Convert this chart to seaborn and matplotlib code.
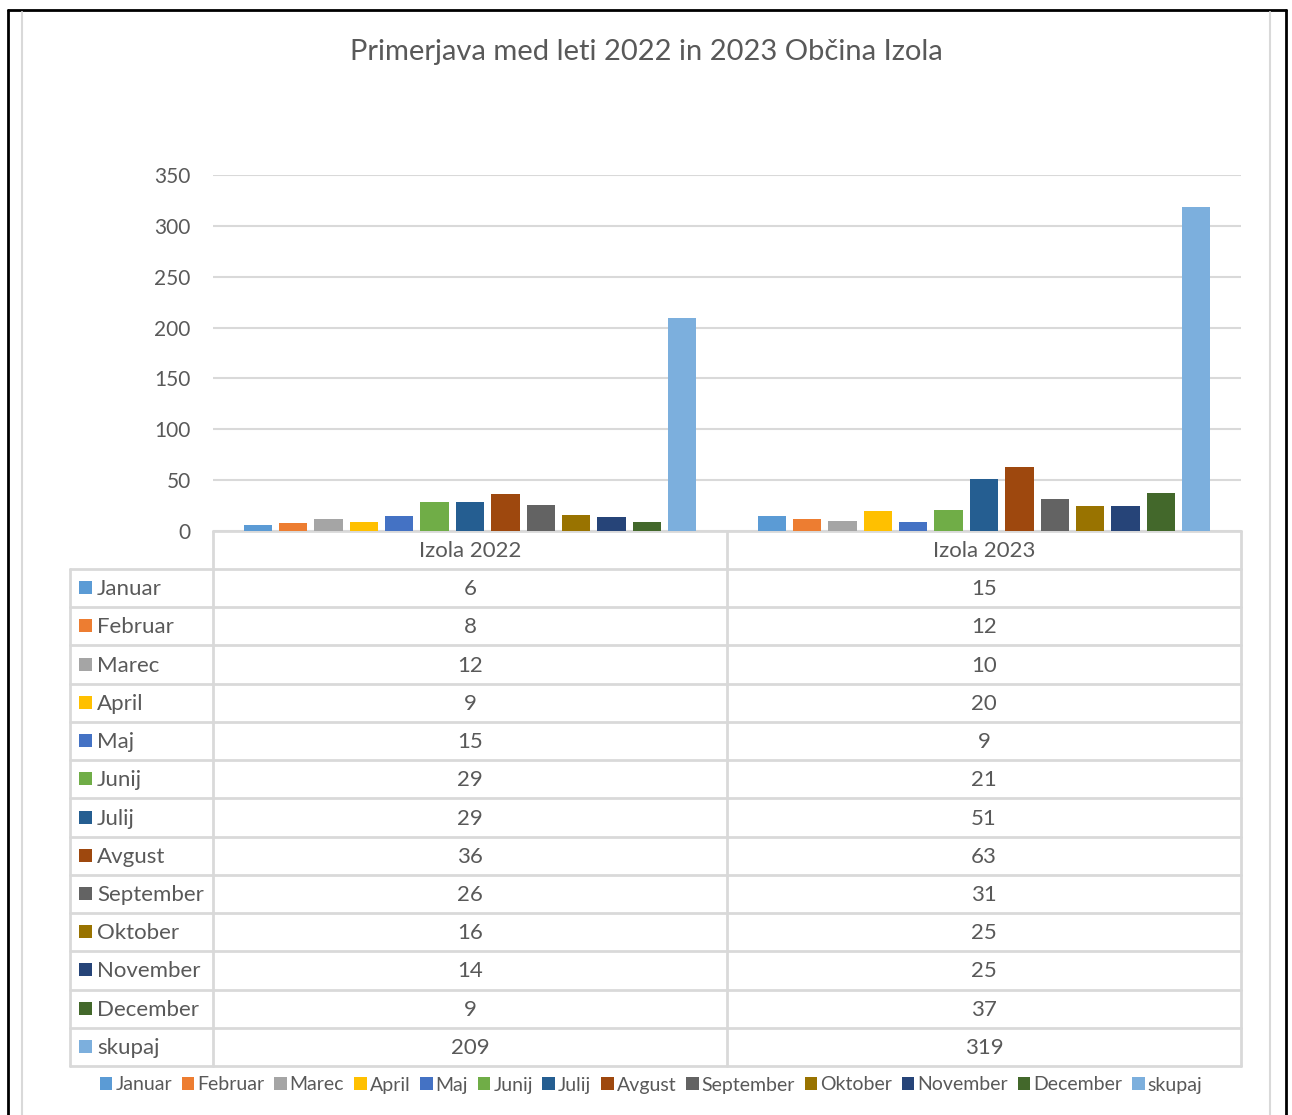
import matplotlib
matplotlib.use("Agg")
import matplotlib.pyplot as plt
import seaborn as sns
import pandas as pd
from matplotlib.patches import Rectangle

sns.set_theme(style="white")
plt.rcParams['font.family'] = ['Lato', 'DejaVu Sans']

title = "Primerjava med leti 2022 in 2023 Občina Izola"
groups = ["Izola 2022", "Izola 2023"]
months = ["Januar", "Februar", "Marec", "April", "Maj", "Junij", "Julij",
          "Avgust", "September", "Oktober", "November", "December", "skupaj"]
vals_2022 = [6, 8, 12, 9, 15, 29, 29, 36, 26, 16, 14, 9, 209]
vals_2023 = [15, 12, 10, 20, 9, 21, 51, 63, 31, 25, 25, 37, 319]
yticks = [0, 50, 100, 150, 200, 250, 300, 350]
colors = ["#5B9BD5", "#ED7D31", "#A5A5A5", "#FFC000", "#4472C4", "#70AD47",
          "#255E91", "#9E480E", "#636363", "#997300", "#264478", "#43682B",
          "#7CAFDD"]

df = pd.DataFrame({
    "group": [groups[0]] * len(months) + [groups[1]] * len(months),
    "month": months + months,
    "value": vals_2022 + vals_2023,
})

W, H = 1292, 1115
fig = plt.figure(figsize=(W / 100, H / 100), dpi=100)
txt = "#595959"
grid = "#D9D9D9"

# overlay axes in pixel coordinates
ov = fig.add_axes([0, 0, 1, 1], zorder=0)
ov.set_xlim(0, W)
ov.set_ylim(H, 0)
ov.axis("off")

# plot area
L, R, T, B = 213, 1241, 175, 531
ax = fig.add_axes([L / W, 1 - B / H, (R - L) / W, (B - T) / H], zorder=2)
ax.patch.set_alpha(0)
sns.barplot(data=df, x="group", y="value", hue="month", hue_order=months,
            palette=colors, width=0.895, gap=0.2, ax=ax, legend=False,
            linewidth=0, saturation=1)
ax.set_ylim(0, 350)
ax.set_xlim(-0.5, 1.5)
ax.set_yticks(yticks)
ax.set_yticklabels([str(v) for v in yticks], color=txt, fontsize=15)
ax.tick_params(axis="y", length=0, pad=16)
ax.set_xticks([])
ax.set_xlabel("")
ax.set_ylabel("")
for s in ax.spines.values():
    s.set_visible(False)
ax.yaxis.grid(True, color=grid, linewidth=1.5)
ax.set_axisbelow(True)

# title
ov.text(646, 52, title, ha="center", va="center", fontsize=21, color=txt)

# borders of the frame
ov.plot([8, 1286], [10, 10], color="black", lw=2)
ov.plot([8, 8], [10, H], color="black", lw=2)
ov.plot([1286, 1286], [10, H], color="black", lw=2)
ov.plot([22, 22], [12, H], color="#D9D9D9", lw=1.5)
ov.plot([1270, 1270], [12, H], color="#D9D9D9", lw=1.5)

# data table
mid = 727
TL = 70
hdr_top, hdr_bot = 531, 569
row_h = (1066 - 569) / len(months)
tl = 2
ov.plot([L, R], [hdr_top, hdr_top], color=grid, lw=tl)
ov.plot([L, L], [hdr_top, 1066], color=grid, lw=tl)
ov.plot([mid, mid], [hdr_top, 1066], color=grid, lw=tl)
ov.plot([R, R], [hdr_top, 1066], color=grid, lw=tl)
ov.plot([TL, TL], [hdr_bot, 1066], color=grid, lw=tl)
ov.text((L + mid) / 2, (hdr_top + hdr_bot) / 2 + 1, groups[0], ha="center",
        va="center", fontsize=16, color=txt)
ov.text((mid + R) / 2, (hdr_top + hdr_bot) / 2 + 1, groups[1], ha="center",
        va="center", fontsize=16, color=txt)
for i, m in enumerate(months):
    y0 = hdr_bot + i * row_h
    ov.plot([TL, R], [y0, y0], color=grid, lw=tl)
    yc = y0 + row_h / 2
    ov.add_patch(Rectangle((79, yc - 7), 13, 13, color=colors[i], lw=0))
    ov.text(97, yc + 1, m, ha="left", va="center", fontsize=16, color=txt)
    ov.text((L + mid) / 2, yc + 1, str(vals_2022[i]), ha="center", va="center",
            fontsize=16, color=txt)
    ov.text((mid + R) / 2, yc + 1, str(vals_2023[i]), ha="center", va="center",
            fontsize=16, color=txt)
ov.plot([TL, R], [1066, 1066], color=grid, lw=tl)

# bottom legend
handles = [Rectangle((0, 0), 1, 1, color=c, lw=0) for c in colors]
fig.legend(handles, months, loc="center", bbox_to_anchor=(651 / W, 1 - 1085 / H),
           ncol=len(months), frameon=False, fontsize=14, handlelength=0.65,
           handleheight=0.65, handletextpad=0.15, columnspacing=0.5,
           labelcolor=txt, borderaxespad=0)

fig.savefig("out.png", dpi=100)
